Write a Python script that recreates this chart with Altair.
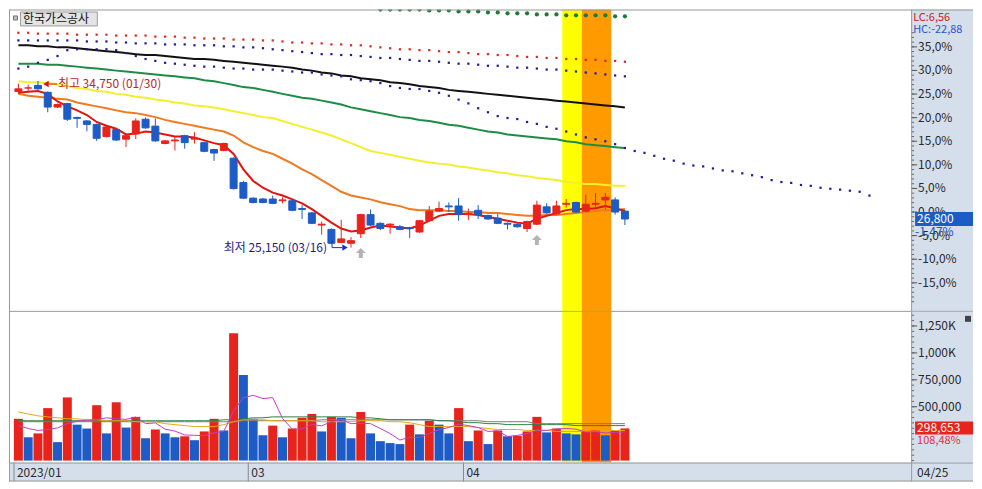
import altair as alt
import pandas as pd

TITLE = "한국가스공사"
BASE_PRICE = 27200

DATES = ["01/26", "01/27", "01/30", "01/31",
         "02/01", "02/02", "02/03", "02/06", "02/07", "02/08", "02/09", "02/10", "02/13", "02/14",
         "02/15", "02/16", "02/17", "02/20", "02/21", "02/22", "02/23", "02/24", "02/27", "02/28",
         "03/02", "03/03", "03/06", "03/07", "03/08", "03/09", "03/10", "03/13", "03/14", "03/15",
         "03/16", "03/17", "03/20", "03/21", "03/22", "03/23", "03/24", "03/27", "03/28", "03/29",
         "03/30", "03/31",
         "04/03", "04/04", "04/05", "04/06", "04/07", "04/10", "04/11", "04/12", "04/13", "04/14",
         "04/17", "04/18", "04/19", "04/20", "04/21", "04/24", "04/25"]

OPEN = [34150, 34350, 34500, 34100, 33250, 33450, 32650, 32450, 32250, 31550,
        31950, 31400, 31700, 32550, 32150, 31150, 31300, 31600, 31400, 31200,
        30800, 30750, 30300, 28900, 28000, 27950, 27950, 27850, 27850, 27400,
        27150, 26450, 26200, 25450, 25400, 25950, 27050, 26550, 26450, 26350,
        26300, 26050, 26700, 27250, 27550, 27550, 27050, 27300, 27000, 26850,
        26550, 26500, 26250, 26500, 27500, 27100, 27650, 27750, 27250, 27650,
        27900, 27900, 27250]
HIGH = [34600, 34550, 34750, 34150, 33450, 33500, 32700, 32500, 32300, 32150,
        32000, 31650, 32600, 32650, 32600, 31350, 31550, 31650, 31800, 31250,
        30850, 31200, 30350, 29000, 28050, 28000, 28150, 28050, 27900, 27600,
        27200, 26650, 26250, 26750, 25750, 27100, 27350, 26600, 26550, 26450,
        26350, 26750, 27550, 27800, 27750, 28000, 27400, 27600, 27050, 27100,
        26600, 26550, 26700, 27850, 27700, 27850, 27950, 27800, 28200, 28300,
        28300, 28050, 27300]
LOW = [34000, 34100, 34250, 32950, 33200, 32450, 32050, 31850, 31300, 31500,
       31300, 30950, 31400, 32000, 31250, 31100, 30750, 30850, 31150, 30650,
       30150, 30700, 28500, 27950, 27700, 27700, 27650, 27700, 27250, 26800,
       26500, 25900, 25350, 25400, 25150, 25700, 26400, 26150, 25950, 26150,
       25700, 26000, 26650, 27200, 27200, 26700, 26750, 26800, 26750, 26500,
       26200, 26300, 26050, 26450, 27100, 27050, 27450, 27150, 27200, 27450,
       27350, 27050, 26450]
CLOSE = [34300, 34350, 34300, 33250, 33400, 32550, 32600, 32250, 31450, 32100,
         31350, 31600, 32450, 32050, 31300, 31300, 31350, 31200, 31450, 30700,
         30600, 31150, 28550, 28000, 27750, 27750, 27700, 27900, 27300, 27350,
         26550, 26500, 25400, 25650, 25550, 27050, 26450, 26250, 26500, 26200,
         26250, 26700, 27250, 27400, 27500, 27050, 27100, 27050, 26800, 26550,
         26500, 26350, 26650, 27600, 27150, 27550, 27700, 27200, 27650, 27700,
         28050, 27200, 26800]

MA5 = [34070, 34130, 34180, 34010, 33570, 33290, 33060, 32790, 32390, 32170,
       32000, 31670, 31720, 31840, 31780, 31670, 31560, 31560, 31500, 31330,
       31170, 31050, 30550, 29660, 28990, 28600, 28320, 28150, 27930, 27700,
       27370, 26980, 26590, 26250, 26080, 26140, 26310, 26420, 26360, 26310,
       26250, 26420, 26700, 26980, 27090, 27090, 27090, 27030, 26920, 26810,
       26700, 26590, 26530, 26810, 26980, 27140, 27310, 27370, 27370, 27420,
       27540, 27420, 27260]
MA20 = [34010, 33900, 33850, 33790, 33730, 33680, 33510, 33400, 33290, 33180,
        33060, 32950, 32900, 32790, 32670, 32510, 32390, 32280, 32170, 32060,
        31950, 31840, 31610, 31220, 30940, 30720, 30550, 30270, 29990, 29660,
        29380, 29040, 28710, 28370, 28150, 28040, 27930, 27760, 27650, 27540,
        27370, 27310, 27310, 27310, 27260, 27260, 27200, 27200, 27140, 27140,
        27090, 27030, 26980, 26980, 27030, 27030, 27090, 27140, 27200, 27260,
        27310, 27310, 27370]
MA60 = [34740, 34680, 34680, 34630, 34570, 34460, 34350, 34290, 34180, 34130,
        34010, 33960, 33850, 33790, 33680, 33620, 33510, 33460, 33340, 33290,
        33230, 33120, 33010, 32900, 32790, 32670, 32620, 32450, 32280, 32110,
        31950, 31780, 31610, 31390, 31170, 30940, 30720, 30610, 30500, 30380,
        30270, 30160, 30050, 29990, 29940, 29830, 29770, 29660, 29600, 29490,
        29430, 29320, 29270, 29160, 29100, 29040, 28930, 28880, 28820, 28820,
        28760, 28710, 28710]
MA120 = [35750, 35750, 35750, 35690, 35690, 35630, 35580, 35520, 35470, 35410,
         35350, 35300, 35240, 35190, 35130, 35070, 35020, 34960, 34910, 34800,
         34740, 34630, 34520, 34400, 34350, 34240, 34130, 34010, 33900, 33790,
         33730, 33620, 33510, 33400, 33230, 33120, 33010, 32900, 32790, 32670,
         32620, 32510, 32450, 32340, 32230, 32170, 32060, 31950, 31840, 31780,
         31670, 31610, 31560, 31500, 31440, 31390, 31280, 31220, 31110, 31050,
         31000, 30940, 30890]
MA240 = [36810, 36810, 36750, 36750, 36690, 36690, 36640, 36580, 36530, 36470,
         36420, 36360, 36300, 36250, 36250, 36190, 36140, 36080, 36020, 36020,
         35970, 35910, 35860, 35800, 35750, 35690, 35630, 35580, 35520, 35410,
         35350, 35240, 35190, 35070, 35020, 34910, 34850, 34800, 34680, 34630,
         34570, 34460, 34400, 34350, 34240, 34180, 34130, 34070, 34010, 33960,
         33900, 33850, 33790, 33730, 33680, 33620, 33570, 33510, 33460, 33400,
         33340, 33290, 33230]

ENV_UP = [37530, 37530, 37480, 37480, 37480, 37480, 37420, 37420, 37420, 37420,
          37370, 37370, 37370, 37370, 37310, 37310, 37310, 37250, 37250, 37200,
          37200, 37200, 37140, 37140, 37140, 37090, 37090, 37030, 36970, 36970,
          36920, 36920, 36860, 36860, 36810, 36810, 36750, 36690, 36640, 36580,
          36580, 36530, 36530, 36470, 36420, 36420, 36360, 36300, 36300, 36250,
          36250, 36190, 36140, 36140, 36080, 36080, 36020, 36020, 35970, 35970,
          35910, 35910, 35860]
ENV_MID = [37090, 37090, 37090, 37090, 37090, 37090, 37090, 37030, 37030, 37030,
           36970, 36970, 36920, 36920, 36920, 36860, 36860, 36860, 36810, 36810,
           36810, 36750, 36750, 36690, 36690, 36640, 36580, 36530, 36470, 36420,
           36360, 36300, 36300, 36250, 36250, 36190, 36140, 36080, 36080, 36020,
           35970, 35910, 35910, 35860, 35800, 35750, 35750, 35690, 35630, 35630,
           35580, 35520, 35520, 35470, 35410, 35410, 35350, 35300, 35240, 35190,
           35130, 35070, 35020]
TREND = [35470, 35580, 35800, 35970, 36190, 36530, 36580, 36580, 36580, 36580,
         36530, 36360, 36190, 36020, 35910, 35800, 35750, 35690, 35630, 35580,
         35580, 35520, 35470, 35470, 35410, 35410, 35410, 35350, 35300, 35240,
         35240, 35130, 35070, 35020, 34850, 34800, 34740, 34630, 34460, 34350,
         34290, 34290, 34180, 34070, 33900, 33680, 33460, 33180, 32950, 32730,
         32620, 32560, 32390, 32280, 32110, 32000, 31840, 31670, 31500, 31390,
         31280, 31110, 30890, 30720, 30610, 30440, 30270, 30160, 29990, 29880,
         29830, 29710, 29600, 29550, 29430, 29320, 29210, 29040, 28930, 28880,
         28760, 28710, 28600, 28540, 28490, 28430, 28370, 28150]
TOP_DOTS_FROM = 37
TOP_DOTS = [38870, 38870, 38870, 38870, 38870, 38820, 38820, 38820, 38760, 38760,
            38760, 38700, 38700, 38650, 38650, 38650, 38590, 38590, 38590, 38540,
            38540, 38540, 38540, 38540, 38480, 38480]

VOLUME = [388100, 216600, 252700, 487400, 171500, 586600, 333900, 297800, 514400, 252700,
          541500, 306900, 406100, 207600, 288800, 252700, 216600, 225600, 189500, 270800,
          388100, 279800, 1182300, 794200, 388100, 234700, 324900, 216600, 297800, 397100,
          433200, 270800, 406100, 397100, 207600, 451300, 252700, 180500, 162500, 153400,
          333900, 243700, 370000, 333900, 252700, 487400, 180500, 279800, 153400, 279800,
          225600, 230000, 270800, 406100, 261700, 297800, 252700, 243700, 270800, 279800,
          234700, 275300, 298653]
VOL_DIR = list("uduududdud" "udududdudu" "ududdduduu" "ududdudddd"
               "ududdududu" "duuududduu" "duu")
VMA5_K = [325, 298, 280, 289, 303, 343, 366, 375, 381, 397,
          388, 383, 404, 343, 350, 292, 274, 238, 235, 231,
          258, 271, 462, 583, 606, 576, 585, 392, 292, 294,
          334, 323, 361, 381, 343, 347, 343, 298, 251, 191,
          217, 215, 253, 287, 307, 338, 325, 307, 271, 276,
          224, 234, 250, 282, 281, 293, 298, 292, 265, 269,
          256, 263, 266]
VMA20_K = [451, 433, 415, 406, 397, 388, 388, 379, 379, 370,
           370, 370, 361, 361, 361, 343, 334, 325, 316, 316,
           316, 334, 361, 379, 379, 379, 370, 370, 370, 370,
           370, 361, 361, 361, 361, 370, 370, 370, 361, 361,
           352, 334, 316, 316, 316, 316, 316, 307, 298, 289,
           289, 289, 280, 280, 280, 271, 271, 271, 271, 271,
           280, 280, 280]
VMA60_K = [370, 370, 370, 370, 370, 370, 370, 370, 370, 370,
           370, 370, 370, 370, 370, 370, 370, 370, 370, 370,
           370, 379, 379, 388, 397, 397, 406, 406, 406, 406,
           406, 406, 406, 406, 406, 397, 397, 388, 379, 379,
           379, 379, 379, 370, 370, 361, 352, 352, 343, 343,
           334, 334, 334, 334, 334, 334, 334, 325, 325, 325,
           325, 325, 325]
VMA120_K = [361, 361, 361, 361, 361, 361, 361, 361, 361, 361,
            361, 361, 361, 361, 361, 361, 361, 361, 361, 361,
            361, 361, 361, 370, 370, 370, 370, 370, 370, 370,
            370, 379, 379, 379, 379, 379, 379, 379, 379, 379,
            379, 379, 379, 370, 370, 370, 370, 370, 361, 361,
            361, 361, 361, 343, 343, 343, 343, 343, 343, 343,
            343, 343, 343]

BAND_START = [55.6, 57.6]
BAND_END = [57.6, 60.6]
BAND_COLOR = ["#FFFF00", "#FF9A00"]

SIGNAL_BARS = [35, 53]

PCT_TICKS = [35, 30, 25, 20, 15, 10, 5, 0, -5, -10, -15]
PCT_LABELS = ["35,0%", "30,0%", "25,0%", "20,0%", "15,0%", "10,0%", "5,0%", "0,0%",
              "-5,0%", "-10,0%", "-15,0%"]
VOL_TICKS = [1250000, 1000000, 750000, 500000]
VOL_LABELS = ["1,250K", "1,000K", "750,000", "500,000"]
DATE_TICK_POS = [-0.45, 23.5, 45.5]
DATE_TICK_LABELS = ["2023/01", "03", "04"]

# ---------------------------------------------------------------- layout
W, AXW, HP, HV, HD = 904, 62, 303, 151, 19
X_DOM = [-0.45, 90.75]
P_DOM = [21447, 38873]
V_DOM = [-18050, 1380825]

RED = "#E8231B"
BLUE = "#1D5BC6"
AXIS_BG = "#D5DEEB"
BORDER = "#9A9A9A"
FONT = "Noto Sans CJK KR"
TXT = "#2A2A2A"

xs = alt.Scale(domain=X_DOM, nice=False, zero=False)
ps = alt.Scale(domain=P_DOM, nice=False, zero=False)
vs = alt.Scale(domain=V_DOM, nice=False, zero=False)


def ex(f):
    return alt.X(f + ":Q", scale=xs, axis=None)


def ep(f):
    return alt.Y(f + ":Q", scale=ps, axis=None)


def ev(f):
    return alt.Y(f + ":Q", scale=vs, axis=None)


n = len(DATES)
idx = list(range(n))
df = pd.DataFrame({"i": idx, "date": DATES, "open": OPEN, "high": HIGH, "low": LOW,
                   "close": CLOSE, "vol": VOLUME, "vdir": VOL_DIR,
                   "ma5": MA5, "ma20": MA20, "ma60": MA60, "ma120": MA120, "ma240": MA240,
                   "up": ENV_UP, "mid": ENV_MID,
                   "v5": [v * 1000 for v in VMA5_K], "v20": [v * 1000 for v in VMA20_K],
                   "v60": [v * 1000 for v in VMA60_K], "v120": [v * 1000 for v in VMA120_K]})
trend_df = pd.DataFrame({"i": list(range(len(TREND))), "v": TREND})
top_df = pd.DataFrame({"i": list(range(TOP_DOTS_FROM, TOP_DOTS_FROM + len(TOP_DOTS))), "v": TOP_DOTS})
bands_df = pd.DataFrame({"start": BAND_START, "end": BAND_END, "fill": BAND_COLOR})
one = pd.DataFrame({"k": [0]})

hi_i = HIGH.index(max(HIGH))
lo_i = LOW.index(min(LOW))
hi_df = pd.DataFrame({"i": [hi_i], "p": [HIGH[hi_i]],
                      "label": [f"최고 {HIGH[hi_i]:,} ({DATES[hi_i]})"]})
lo_df = pd.DataFrame({"i": [lo_i], "p": [LOW[lo_i]],
                      "label": [f"최저 {LOW[lo_i]:,} ({DATES[lo_i]})"]})
sig_df = pd.DataFrame({"i": SIGNAL_BARS, "p": [LOW[k] for k in SIGNAL_BARS]})

last = CLOSE[-1]
pct_chg = (last / BASE_PRICE - 1) * 100
lc = (last / min(LOW) - 1) * 100
hc = (last / max(HIGH) - 1) * 100
last_df = pd.DataFrame({"p": [last], "label": [f"{last:,}"],
                        "chg": [f"{pct_chg:.2f}%".replace(".", ",")]})
vol_ratio = VOLUME[-1] / VOLUME[-2] * 100
vlast_df = pd.DataFrame({"v": [VOLUME[-1]], "label": [f"{VOLUME[-1]:,}"],
                         "chg": [f"{vol_ratio:.2f}%".replace(".", ",")]})

pt_df = pd.DataFrame({"pct": PCT_TICKS, "label": PCT_LABELS})
pt_df["p"] = BASE_PRICE * (1 + pt_df["pct"] / 100)
pm_df = pd.DataFrame({"pct": list(range(-19, 39))})
pm_df["p"] = BASE_PRICE * (1 + pm_df["pct"] / 100)
vt_df = pd.DataFrame({"v": VOL_TICKS, "label": VOL_LABELS})
vm_df = pd.DataFrame({"v": list(range(0, 1400000, 50000))})
dt_df = pd.DataFrame({"pos": DATE_TICK_POS, "label": DATE_TICK_LABELS})


def hrule(y, x1=0, x2=W + AXW, color=BORDER):
    return alt.Chart(one).mark_rule(color=color, strokeWidth=1).encode(
        x=alt.value(x1), x2=alt.value(x2), y=alt.value(y))


def vrule(x, y1, y2, color=BORDER):
    return alt.Chart(one).mark_rule(color=color, strokeWidth=1).encode(
        x=alt.value(x), y=alt.value(y1), y2=alt.value(y2))


def label(text, x, y, color=TXT, size=12, align="left"):
    return alt.Chart(one).mark_text(text=text, align=align, baseline="middle", fontSize=size,
                                    font=FONT, color=color).encode(x=alt.value(x), y=alt.value(y))


candle_color = alt.condition("datum.close >= datum.open", alt.value(RED), alt.value(BLUE))
UP_ARROW = "M0,-1L1,0L0.4,0L0.4,1L-0.4,1L-0.4,0L-1,0Z"

# ---------------------------------------------------------------- price panel
p_layers = [
    alt.Chart(bands_df).mark_rect().encode(x=ex("start"), x2="end:Q", y=alt.value(0),
                                           y2=alt.value(HP), color=alt.Color("fill:N", scale=None)),
]
for field, col in [("ma240", "#111111"), ("ma120", "#1E8C46"), ("ma60", "#F3EF2C"),
                   ("ma20", "#F07A1E"), ("ma5", "#E3140E")]:
    p_layers.append(alt.Chart(df).mark_line(color=col, strokeWidth=2).encode(x=ex("i"), y=ep(field)))
p_layers += [
    alt.Chart(df).mark_square(color="#E02828", size=5, opacity=1).encode(x=ex("i"), y=ep("up")),
    alt.Chart(df).mark_square(color="#1E1E96", size=5, opacity=1).encode(x=ex("i"), y=ep("mid")),
    alt.Chart(trend_df).mark_square(color="#1E1E96", size=5, opacity=1).encode(x=ex("i"), y=ep("v")),
    alt.Chart(top_df).mark_circle(color="#1F7A33", size=18, opacity=1, clip=True).encode(x=ex("i"), y=ep("v")),
    alt.Chart(df).mark_rule(strokeWidth=1).encode(x=ex("i"), y=ep("low"), y2="high:Q", color=candle_color),
    alt.Chart(df).mark_bar(size=7, strokeWidth=1).encode(x=ex("i"), y=ep("open"), y2="close:Q",
                                                          color=candle_color, stroke=candle_color),
    # high / low annotations
    alt.Chart(hi_df).mark_text(align="left", baseline="middle", dx=20, dy=3, fontSize=12, font=FONT,
                               color="#B8262B").encode(x=ex("i"), y=ep("p"), text="label:N"),
    alt.Chart(hi_df).mark_rule(color="#E01010", strokeWidth=1, xOffset=9, x2Offset=19, yOffset=3,
                               y2Offset=3).encode(x=ex("i"), x2="i:Q", y=ep("p")),
    alt.Chart(hi_df).mark_point(shape="triangle-left", filled=True, size=40, color="#E01010",
                                opacity=1, xOffset=8, yOffset=3).encode(x=ex("i"), y=ep("p")),
    alt.Chart(lo_df).mark_text(align="right", baseline="middle", dx=-24, dy=0, fontSize=12, font=FONT,
                               color="#1C1C88").encode(x=ex("i"), y=ep("p"), text="label:N"),
    alt.Chart(lo_df).mark_rule(color="#1030E0", strokeWidth=1, xOffset=-19, yOffset=-7,
                               y2Offset=0).encode(x=ex("i"), y=ep("p"), y2="p:Q"),
    alt.Chart(lo_df).mark_rule(color="#1030E0", strokeWidth=1, xOffset=-19,
                               x2Offset=-9).encode(x=ex("i"), x2="i:Q", y=ep("p")),
    alt.Chart(lo_df).mark_point(shape="triangle-right", filled=True, size=40, color="#1030E0",
                                opacity=1, xOffset=-6).encode(x=ex("i"), y=ep("p")),
    alt.Chart(sig_df).mark_point(shape=UP_ARROW, filled=True, size=100, color="#B4B4B4",
                                 opacity=1, yOffset=15).encode(x=ex("i"), y=ep("p")),
    # right axis column
    alt.Chart(one).mark_rect(color=AXIS_BG).encode(x=alt.value(W), x2=alt.value(W + AXW),
                                                   y=alt.value(0), y2=alt.value(HP)),
    alt.Chart(pm_df).mark_rule(color="#666666", strokeWidth=1).encode(
        x=alt.value(W), x2=alt.value(W + 3), y=ep("p")),
    alt.Chart(pt_df).mark_rule(color="#555555", strokeWidth=1).encode(
        x=alt.value(W), x2=alt.value(W + 6), y=ep("p")),
    alt.Chart(pt_df).mark_text(align="left", baseline="middle", fontSize=12, font=FONT,
                               color=TXT).encode(x=alt.value(W + 7), y=ep("p"), text="label:N"),
    label(f"LC:{lc:.2f}".replace(".", ","), W + 2, 9, color="#D0202A", size=11),
    label(f"HC:{hc:.2f}".replace(".", ","), W + 2, 21, color="#2A56C6", size=11),
    alt.Chart(last_df).mark_rect(color=BLUE, yOffset=-7, y2Offset=7).encode(
        x=alt.value(W + 4), x2=alt.value(W + AXW), y=ep("p"), y2="p:Q"),
    alt.Chart(last_df).mark_text(align="left", baseline="middle", fontSize=12, font=FONT,
                                 color="white").encode(x=alt.value(W + 6), y=ep("p"), text="label:N"),
    alt.Chart(last_df).mark_text(align="left", baseline="middle", fontSize=12, font=FONT, dy=13,
                                 color="#2050C0").encode(x=alt.value(W + 4), y=ep("p"), text="chg:N"),
    # title box
    alt.Chart(one).mark_rect(fill="#E4E4E4", stroke="#9C9C9C", strokeWidth=1).encode(
        x=alt.value(11.5), x2=alt.value(88.5), y=alt.value(2.5), y2=alt.value(16.5)),
    alt.Chart(one).mark_rect(fill="#C4C4C4", stroke="#6E6E6E", strokeWidth=1).encode(
        x=alt.value(4.5), x2=alt.value(8.5), y=alt.value(6.5), y2=alt.value(10.5)),
    label(TITLE, 14, 10, color="#111111"),
    # frame
    hrule(0.5),
    hrule(HP - 0.5),
    vrule(0.5, 0, HP),
    vrule(W + 0.5, 0, HP),
]
price = alt.layer(*p_layers).properties(width=W, height=HP)

# ---------------------------------------------------------------- volume panel
v_layers = [
    alt.Chart(bands_df).mark_rect().encode(x=ex("start"), x2="end:Q", y=alt.value(0),
                                           y2=alt.value(HV), color=alt.Color("fill:N", scale=None)),
    alt.Chart(df).mark_bar(size=9).encode(
        x=ex("i"), y=ev("vol"), y2=alt.Y2(datum=0),
        color=alt.Color("vdir:N", scale=alt.Scale(domain=["u", "d"], range=[RED, BLUE]), legend=None)),
]
for field, col in [("v120", "#7A7A7A"), ("v60", "#2E8040"), ("v20", "#E6A817"), ("v5", "#C23CC2")]:
    v_layers.append(alt.Chart(df).mark_line(color=col, strokeWidth=1).encode(x=ex("i"), y=ev(field)))
v_layers += [
    alt.Chart(one).mark_rect(color=AXIS_BG).encode(x=alt.value(W), x2=alt.value(W + AXW),
                                                   y=alt.value(0), y2=alt.value(HV)),
    alt.Chart(vm_df).mark_rule(color="#666666", strokeWidth=1).encode(
        x=alt.value(W), x2=alt.value(W + 3), y=ev("v")),
    alt.Chart(vt_df).mark_rule(color="#555555", strokeWidth=1).encode(
        x=alt.value(W), x2=alt.value(W + 6), y=ev("v")),
    alt.Chart(vt_df).mark_text(align="left", baseline="middle", fontSize=12, font=FONT,
                               color=TXT).encode(x=alt.value(W + 7), y=ev("v"), text="label:N"),
    alt.Chart(vlast_df).mark_rect(color=RED, yOffset=-7, y2Offset=6).encode(
        x=alt.value(W + 4), x2=alt.value(W + AXW), y=ev("v"), y2="v:Q"),
    alt.Chart(vlast_df).mark_text(align="left", baseline="middle", fontSize=12, font=FONT,
                                  color="white").encode(x=alt.value(W + 6), y=ev("v"), text="label:N"),
    alt.Chart(vlast_df).mark_text(align="left", baseline="middle", fontSize=11, font=FONT, dy=13,
                                  color="#E0303A").encode(x=alt.value(W + 6), y=ev("v"), text="chg:N"),
    alt.Chart(one).mark_rect(color="#444444").encode(x=alt.value(W + AXW - 8), x2=alt.value(W + AXW - 2),
                                                     y=alt.value(4), y2=alt.value(10)),
    # date row
    alt.Chart(one).mark_rect(color=AXIS_BG).encode(x=alt.value(0), x2=alt.value(W + AXW),
                                                   y=alt.value(HV), y2=alt.value(HV + HD)),
    alt.Chart(dt_df).mark_rule(color="#8A8A8A", strokeWidth=1).encode(
        x=ex("pos"), y=alt.value(HV), y2=alt.value(HV + HD)),
    alt.Chart(dt_df).mark_text(align="left", baseline="middle", dx=3, fontSize=12, font=FONT,
                               color=TXT).encode(x=ex("pos"), y=alt.value(HV + 10), text="label:N"),
    label(DATES[-1], W + 6, HV + 10),
    hrule(HV + 0.5),
    hrule(HV + HD - 0.5),
    vrule(0.5, 0, HV + HD),
    vrule(W + 0.5, 0, HV + HD),
]
volume = alt.layer(*v_layers).properties(width=W, height=HV)

chart = alt.vconcat(price, volume, spacing=0, bounds="flush").properties(
    padding=0, background="white").configure_view(stroke=None)

chart.save("out.html", embed_options={"renderer": "svg", "actions": False})
